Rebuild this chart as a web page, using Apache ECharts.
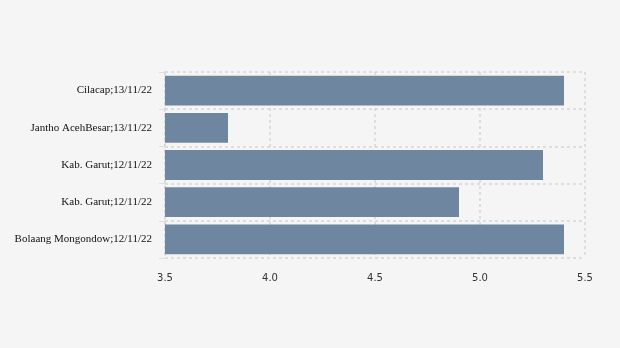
<!DOCTYPE html>
<html><head><meta charset="utf-8">
<script src="https://cdn.jsdelivr.net/npm/echarts@6/dist/echarts.min.js"></script>
<style>html,body{margin:0;padding:0;background:#f5f5f5}#c{width:620px;height:348px}</style>
</head><body><div id="c"></div>
<script>
const categories = ["Cilacap;13/11/22","Jantho AcehBesar;13/11/22","Kab. Garut;12/11/22","Kab. Garut;12/11/22","Bolaang Mongondow;12/11/22"];
const values = [5.4, 3.8, 5.3, 4.9, 5.4];
const xTicks = [3.5, 4.0, 4.5, 5.0, 5.5];
const chart = echarts.init(document.getElementById('c'));
const gridStyle = {color:'#d6d6d6', type:[3,3], width:1.5};
chart.setOption({
  backgroundColor:'#f5f5f5',
  animation:false,
  grid:{left:165, right:35, top:72, bottom:90},
  xAxis:{type:'value', min:3.5, max:5.5, interval:0.5,
    axisLine:{show:false}, axisTick:{show:false},
    axisLabel:{formatter:v=>xTicks.includes(+v.toFixed(1))?v.toFixed(1):'', color:'#333', fontFamily:'DejaVu Sans', fontSize:10, margin:15},
    splitLine:{show:true, lineStyle:gridStyle}},
  yAxis:{type:'category', inverse:true, data:categories.map((c,i)=>i),
    axisLine:{show:true, lineStyle:gridStyle}, axisTick:{show:true, length:6, lineStyle:{color:'#e0e0e0'}},
    axisLabel:{formatter:i=>categories[i], color:'#111', fontFamily:'Liberation Serif', fontSize:11, margin:13, padding:[3,0,0,0]},
    splitLine:{show:true, lineStyle:gridStyle}},
  series:[{type:'bar', data:values.map((v,i)=>[v,i]), barCategoryGap:'20%', itemStyle:{color:'#6f86a0'}}]
});
</script></body></html>
